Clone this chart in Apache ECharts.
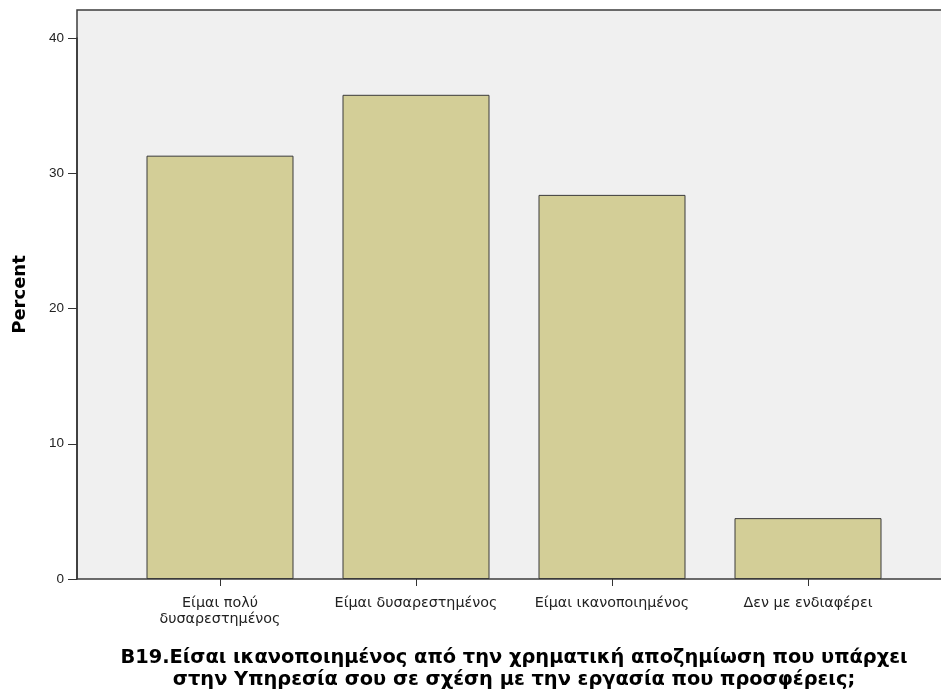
<!DOCTYPE html>
<html>
<head>
<meta charset="utf-8">
<script src="https://cdn.jsdelivr.net/npm/echarts@6/dist/echarts.min.js"></script>
<style>html,body{margin:0;padding:0;background:#fff;}#c{width:941px;height:693px;}</style>
</head>
<body>
<div id="c"></div>
<script>
const categories = ['Είμαι πολύ\nδυσαρεστημένος', 'Είμαι δυσαρεστημένος', 'Είμαι ικανοποιημένος', 'Δεν με ενδιαφέρει'];
const percents = [31.3, 35.8, 28.4, 4.5];
const yTicks = [0, 10, 20, 30, 40];
const yTitle = 'Percent';
const xTitle = 'B19.Είσαι ικανοποιημένος από την χρηματική αποζημίωση που υπάρχει\nστην Υπηρεσία σου σε σχέση με την εργασία που προσφέρεις;';

const chart = echarts.init(document.getElementById('c'), null, {renderer: 'canvas'});
chart.setOption({
  animation: false,
  backgroundColor: '#ffffff',
  grid: [
    {left: 122, width: 784, top: 38, bottom: 114, containLabel: false, outerBoundsMode: 'none'},
    {left: 77, right: -12, top: 10, bottom: 114, show: true, backgroundColor: '#F0F0F0', borderColor: '#3c3c3c', borderWidth: 1.5, z: 0, outerBoundsMode: 'none'}
  ],
  xAxis: [
    {
      type: 'category', gridIndex: 0, data: categories,
      axisLine: {show: false},
      axisTick: {show: true, alignWithLabel: true, length: 7, lineStyle: {color: '#333', width: 1}},
      axisLabel: {color: '#222', fontFamily: 'DejaVu Sans, sans-serif', fontSize: 14.3, lineHeight: 16, margin: 16, interval: 0},
      name: xTitle, nameLocation: 'middle', nameGap: 68,
      nameTextStyle: {color: '#000', fontFamily: 'DejaVu Sans, sans-serif', fontWeight: 'bold', fontSize: 19.4, lineHeight: 22}
    },
    {type: 'value', gridIndex: 1, min: 0, max: 1, show: false}
  ],
  yAxis: [
    {
      type: 'value', gridIndex: 0, min: 0, max: 40, interval: 10, offset: 45,
      axisLine: {show: true, lineStyle: {color: '#333', width: 1.5}},
      axisTick: {show: true, length: 9, lineStyle: {color: '#333'}},
      axisLabel: {color: '#222', fontFamily: 'Liberation Sans, Arial, sans-serif', fontSize: 13.5, margin: 13},
      splitLine: {show: false}
    },
    {
      type: 'value', gridIndex: 1, min: 0, max: 1,
      axisLine: {show: false}, axisTick: {show: false}, axisLabel: {show: false}, splitLine: {show: false},
      name: yTitle, nameLocation: 'middle', nameGap: 48,
      nameTextStyle: {color: '#000', fontFamily: 'DejaVu Sans, sans-serif', fontWeight: 'bold', fontSize: 18}
    }
  ],
  series: [{
    type: 'bar', xAxisIndex: 0, yAxisIndex: 0, data: percents, barWidth: '75%', z: 3,
    itemStyle: {color: '#D3CE97', borderColor: '#3a3a3a', borderWidth: 1}
  }]
});
</script>
</body>
</html>
